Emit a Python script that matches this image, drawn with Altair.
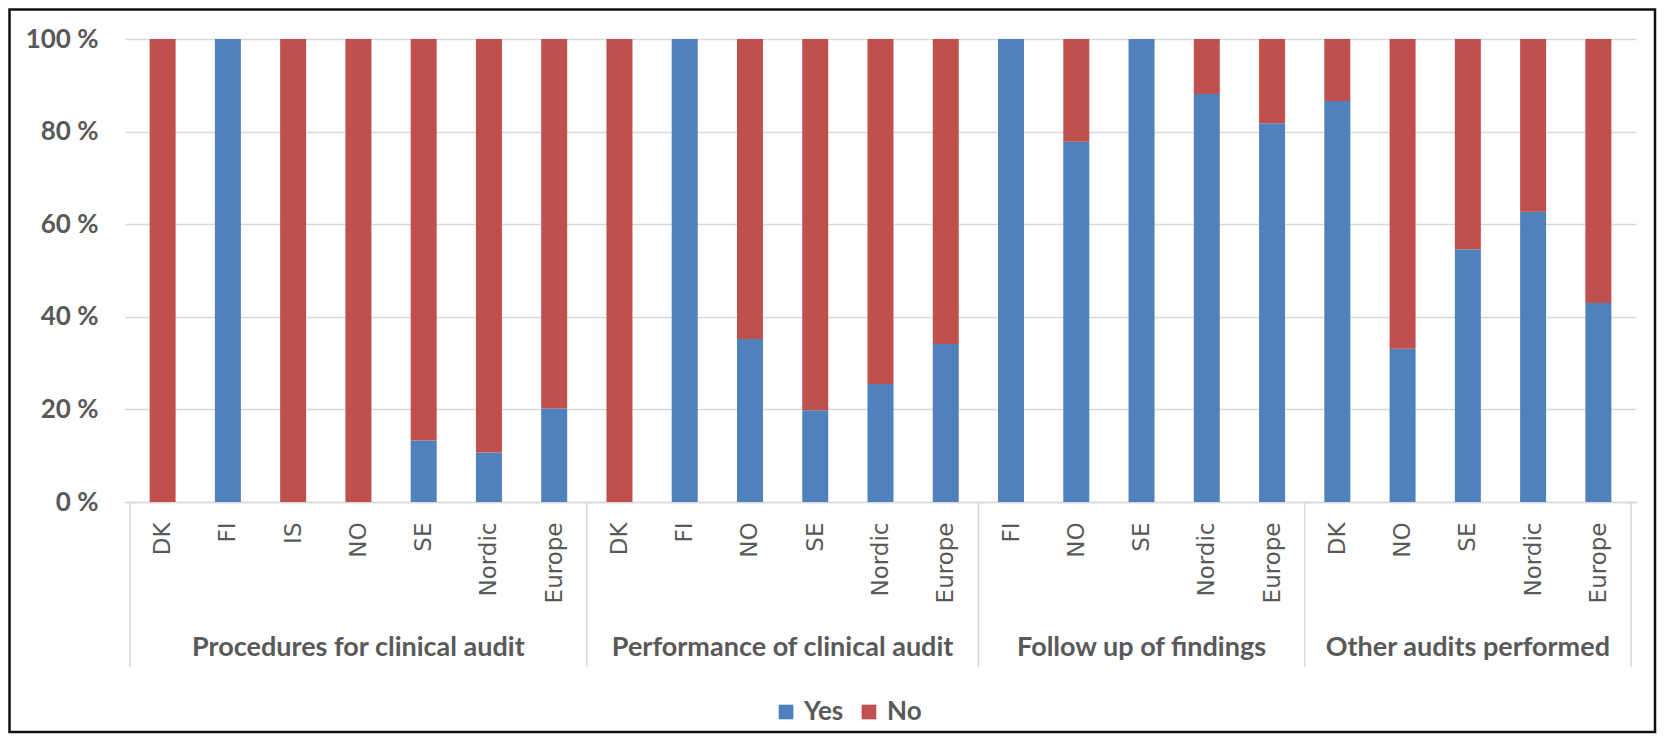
import json
import altair as alt
import pandas as pd

groups = ["Procedures for clinical audit", "Performance of clinical audit",
          "Follow up of findings", "Other audits performed"]
countries = [
    ["DK", "FI", "IS", "NO", "SE", "Nordic", "Europe"],
    ["DK", "FI", "NO", "SE", "Nordic", "Europe"],
    ["FI", "NO", "SE", "Nordic", "Europe"],
    ["DK", "NO", "SE", "Nordic", "Europe"],
]
yes_pct = [
    [0, 100, 0, 0, 13.3, 10.7, 20.2],
    [0, 100, 35.2, 19.8, 25.5, 34.1],
    [100, 77.8, 100, 88.1, 81.8],
    [86.6, 33.1, 54.6, 62.7, 43.0],
]
series = ["Yes", "No"]
colors = ["#4F81BD", "#C0504D"]
y_ticks = [0, 20, 40, 60, 80, 100]

# ---- build tables from the lists ----
rows, labels, seps, centers = [], [], [], []
idx = 0
for g, cs, ys in zip(groups, countries, yes_pct):
    start = idx
    seps.append(start - 0.5)
    for c, y in zip(cs, ys):
        labels.append(c)
        rows.append(dict(idx=idx, group=g, country=c, series="Yes", order=0, value=y))
        rows.append(dict(idx=idx, group=g, country=c, series="No", order=1, value=100 - y))
        idx += 1
    centers.append(dict(group=g, center=(start + idx - 1) / 2))
seps.append(idx - 0.5)
n = idx
df = pd.DataFrame(rows)
sep_df = pd.DataFrame({"b": seps})
grp_df = pd.DataFrame(centers)

FONT = "Lato"
TXT = "#595959"
GRID = "#d9d9d9"
W, H = 1511, 463

xscale = alt.Scale(domain=[-0.5, n - 0.5], nice=False, zero=False)

bars = alt.Chart(df).mark_bar(size=26).encode(
    x=alt.X("idx:Q", scale=xscale,
            axis=alt.Axis(values=list(range(n)),
                          labelExpr=json.dumps(labels) + "[datum.value]",
                          labelAngle=270, ticks=False, grid=False,
                          domainColor=GRID, domainWidth=1.5,
                          labelPadding=20, labelFont="DejaVu Sans", labelFontSize=23,
                          labelColor=TXT, title=None)),
    y=alt.Y("value:Q", stack="zero",
            scale=alt.Scale(domain=[0, 100], nice=False),
            axis=alt.Axis(values=y_ticks, labelExpr="datum.value + ' %'",
                          ticks=False, domain=False, grid=True,
                          gridColor=GRID, gridWidth=1.5,
                          labelPadding=27, labelFont=FONT, labelFontSize=26,
                          labelFontWeight="bold", labelColor=TXT, title=None)),
    color=alt.Color("series:N", scale=alt.Scale(domain=series, range=colors),
                    legend=alt.Legend(orient="none", legendX=648, legendY=660,
                                      direction="horizontal", title=None,
                                      symbolType="square", symbolSize=215,
                                      symbolStrokeWidth=0, labelFont=FONT,
                                      labelFontSize=26, labelFontWeight="bold",
                                      labelColor=TXT, labelOffset=5,
                                      columnPadding=12, padding=0)),
    order=alt.Order("order:Q"),
)

rules = alt.Chart(sep_df).mark_rule(color=GRID, strokeWidth=1.5).encode(
    x=alt.X("b:Q", scale=xscale),
    y=alt.value(H),
    y2=alt.value(628),
)

grp_text = alt.Chart(grp_df).mark_text(
    font=FONT, fontSize=27, fontWeight="bold", color=TXT, baseline="alphabetic"
).encode(
    x=alt.X("center:Q", scale=xscale),
    y=alt.value(617),
    text="group:N",
)

border = alt.Chart(pd.DataFrame({"a": [0]})).mark_rect(
    fillOpacity=0, stroke="#111111", strokeWidth=2.5
).encode(
    x=alt.value(-115.5), x2=alt.value(1530),
    y=alt.value(-29.5), y2=alt.value(693),
)

chart = alt.layer(bars, rules, grp_text, border).properties(
    width=W, height=H,
    padding={"left": 117, "top": 31, "right": 21, "bottom": 232},
    autosize=alt.AutoSizeParams(type="none"),
    background="white",
).configure_view(stroke=None)

chart.save("out.html", embed_options={"renderer": "svg", "actions": False})
